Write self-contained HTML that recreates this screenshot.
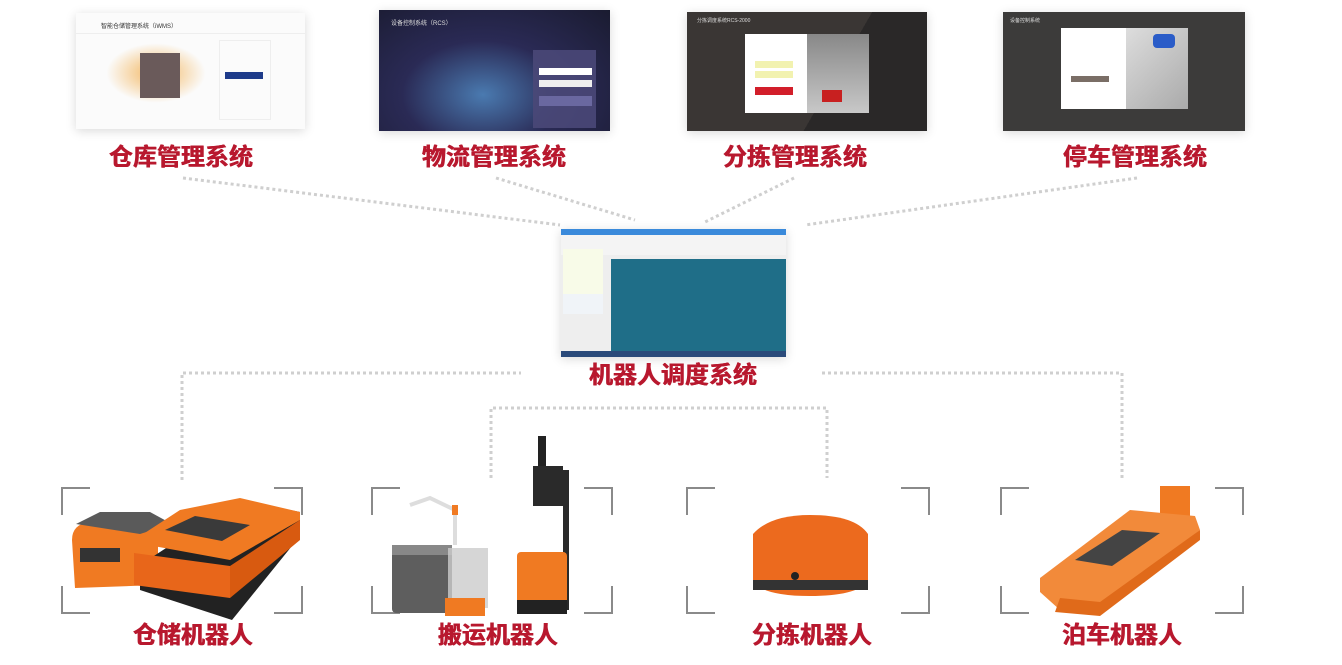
<!DOCTYPE html>
<html><head><meta charset="utf-8"><style>
body{margin:0;width:1342px;height:665px;background:#fff;position:relative;overflow:hidden;font-family:"Liberation Sans","Noto Sans CJK SC",sans-serif}
.a{position:absolute}
.lbl{position:absolute;color:#b8182e;font-weight:bold;font-size:24px;line-height:30px;text-align:center;width:240px;font-family:"Liberation Sans","Noto Sans CJK SC",sans-serif;text-shadow:0.4px 0 0 #b8182e,-0.4px 0 0 #b8182e}
.scr{position:absolute;box-shadow:0 2px 10px rgba(0,0,0,.15);overflow:hidden}
</style></head><body>
<svg class="a" style="left:0;top:0" width="1342" height="665">
<g stroke="#cfcfcf" stroke-width="3" stroke-dasharray="3 3" fill="none">
<line x1="183" y1="178" x2="560" y2="225"/>
<line x1="496" y1="178" x2="635" y2="220"/>
<line x1="794" y1="178" x2="705" y2="222"/>
<line x1="1137" y1="178" x2="805" y2="225"/>
<polyline points="182,480 182,373 521,373"/>
<polyline points="491,478 491,408 827,408 827,478"/>
<polyline points="822,373 1122,373 1122,478"/>
</g>
<g stroke="#8a8a8a" stroke-width="2" fill="none">
<path d="M62,515V488H90M274,488H302V515M62,586V613H90M274,613H302V586"/>
<path d="M372,515V488H400M584,488H612V515M372,586V613H400M584,613H612V586"/>
<path d="M687,515V488H715M901,488H929V515M687,586V613H715M901,613H929V586"/>
<path d="M1001,515V488H1029M1215,488H1243V515M1001,586V613H1029M1215,613H1243V586"/>
</g>
<path d="M72,540 Q72,524 90,522 L140,520 Q155,522 158,540 L158,585 L75,588 Z" fill="#f07a22"/>
<path d="M76,524 L100,512 L150,512 L172,524 L140,534 Z" fill="#5a5a5a"/>
<rect x="80" y="548" width="40" height="14" fill="#333"/>
<path d="M140,565 L140,590 L232,620 L300,536 L300,512 L240,500 Z" fill="#222"/>
<path d="M134,553 L148,545 L230,560 L300,520 L300,512 L240,498 L180,510 L134,540 Z" fill="#f07a22"/>
<path d="M134,553 L230,566 L230,598 L134,585 Z" fill="#e8661a"/>
<path d="M230,566 L300,520 L300,540 L230,598 Z" fill="#d85a10"/>
<path d="M165,530 L195,516 L250,525 L222,541 Z" fill="#3a3a3a"/>
<rect x="392" y="545" width="60" height="68" rx="4" fill="#5e5e5e"/>
<rect x="392" y="545" width="60" height="10" fill="#888"/>
<rect x="448" y="548" width="40" height="60" fill="#ccc" opacity=".8"/>
<rect x="445" y="598" width="40" height="18" fill="#f07a22"/>
<path d="M410,505 L430,498 L455,510 L455,545" stroke="#ddd" stroke-width="4" fill="none"/>
<rect x="452" y="505" width="6" height="10" fill="#f07a22"/>
<rect x="533" y="466" width="30" height="40" fill="#2a2a2a"/>
<rect x="563" y="470" width="6" height="140" fill="#2a2a2a"/>
<rect x="517" y="552" width="50" height="60" rx="4" fill="#f07a22"/>
<rect x="517" y="600" width="50" height="14" fill="#222"/>
<rect x="538" y="436" width="8" height="30" fill="#222"/>
<path d="M753,534 Q770,515 810,515 Q855,515 868,534 L868,582 Q855,596 810,596 Q765,596 753,582 Z" fill="#ec6a1e"/>
<rect x="753" y="580" width="115" height="10" fill="#333"/>
<circle cx="795" cy="576" r="4" fill="#222"/>
<rect x="1160" y="486" width="30" height="30" fill="#f07a22"/>
<path d="M1040,578 L1130,510 L1195,516 L1200,530 L1100,610 L1060,610 L1040,592 Z" fill="#f28a3a"/>
<path d="M1075,560 L1122,530 L1160,533 L1112,566 Z" fill="#444"/>
<path d="M1060,598 L1100,602 L1200,530 L1200,540 L1100,616 L1055,612 Z" fill="#e06a1a"/>
</svg>
<div class="scr" style="left:76px;top:13px;width:229px;height:116px;background:#fbfbfb">
 <div class="a" style="left:25px;top:8px;font-size:6px;color:#333">智能仓储管理系统（iWMS）</div>
 <div class="a" style="left:0;top:20px;width:229px;height:1px;background:#eee"></div>
 <div class="a" style="left:30px;top:30px;width:100px;height:60px;background:radial-gradient(#f5c98a 20%,#fbfbfb 70%)"></div>
 <div class="a" style="left:64px;top:40px;width:40px;height:45px;background:#6a5a5a"></div>
 <div class="a" style="left:143px;top:27px;width:50px;height:78px;border:1px solid #eee"></div>
 <div class="a" style="left:149px;top:59px;width:38px;height:7px;background:#1e3b8a"></div>
</div>
<div class="scr" style="left:379px;top:10px;width:231px;height:121px;background:radial-gradient(ellipse at 45% 70%,#4a7ab0,#2a2a55 45%,#1a1b30)">
 <div class="a" style="left:12px;top:8px;font-size:6px;color:#ddd">设备控制系统（RCS）</div>
 <div class="a" style="left:154px;top:40px;width:63px;height:78px;background:#4a4878;opacity:.9"></div>
 <div class="a" style="left:160px;top:58px;width:53px;height:7px;background:#fff"></div>
 <div class="a" style="left:160px;top:70px;width:53px;height:7px;background:#eee"></div>
 <div class="a" style="left:160px;top:86px;width:53px;height:10px;background:#6a68a0"></div>
</div>
<div class="scr" style="left:687px;top:12px;width:240px;height:119px;background:linear-gradient(120deg,#3a3634 60%,#2a2828 60%)">
 <div class="a" style="left:10px;top:5px;font-size:5px;color:#ddd">分拣调度系统RCS-2000</div>
 <div class="a" style="left:58px;top:22px;width:62px;height:79px;background:#fff"></div>
 <div class="a" style="left:120px;top:22px;width:62px;height:79px;background:linear-gradient(#888,#c8c8c8)"></div>
 <div class="a" style="left:68px;top:49px;width:38px;height:7px;background:#f2f2b0"></div>
 <div class="a" style="left:68px;top:59px;width:38px;height:7px;background:#f2f2b0"></div>
 <div class="a" style="left:68px;top:75px;width:38px;height:8px;background:#d21e2a"></div>
 <div class="a" style="left:135px;top:78px;width:20px;height:12px;background:#c82020"></div>
</div>
<div class="scr" style="left:1003px;top:12px;width:242px;height:119px;background:#3c3b3a">
 <div class="a" style="left:7px;top:5px;font-size:5px;color:#ddd">设备控制系统</div>
 <div class="a" style="left:58px;top:16px;width:65px;height:81px;background:#fff"></div>
 <div class="a" style="left:123px;top:16px;width:62px;height:81px;background:linear-gradient(135deg,#ddd,#aaa)"></div>
 <div class="a" style="left:68px;top:64px;width:38px;height:6px;background:#7a6e66"></div>
 <div class="a" style="left:150px;top:22px;width:22px;height:14px;background:#2a5cc8;border-radius:4px"></div>
</div>
<div class="scr" style="left:561px;top:229px;width:225px;height:128px;background:#eee">
 <div class="a" style="left:0;top:0;width:225px;height:6px;background:#3a8adb"></div>
 <div class="a" style="left:0;top:6px;width:225px;height:20px;background:#f4f4f4"></div>
 <div class="a" style="left:2px;top:20px;width:40px;height:45px;background:#f8fbe8"></div>
 <div class="a" style="left:2px;top:65px;width:40px;height:20px;background:#f0f4f8"></div>
 <div class="a" style="left:50px;top:30px;width:175px;height:92px;background:#1f6e88"></div>
 <div class="a" style="left:0;top:122px;width:225px;height:6px;background:#2a4a7a"></div>
</div>
<div class="lbl" style="left:61px;top:143px">仓库管理系统</div>
<div class="lbl" style="left:374px;top:143px">物流管理系统</div>
<div class="lbl" style="left:675px;top:143px">分拣管理系统</div>
<div class="lbl" style="left:1015px;top:143px">停车管理系统</div>
<div class="lbl" style="left:553px;top:361px">机器人调度系统</div>
<div class="lbl" style="left:73px;top:621px">仓储机器人</div>
<div class="lbl" style="left:378px;top:621px">搬运机器人</div>
<div class="lbl" style="left:692px;top:621px">分拣机器人</div>
<div class="lbl" style="left:1002px;top:621px">泊车机器人</div>
</body></html>
